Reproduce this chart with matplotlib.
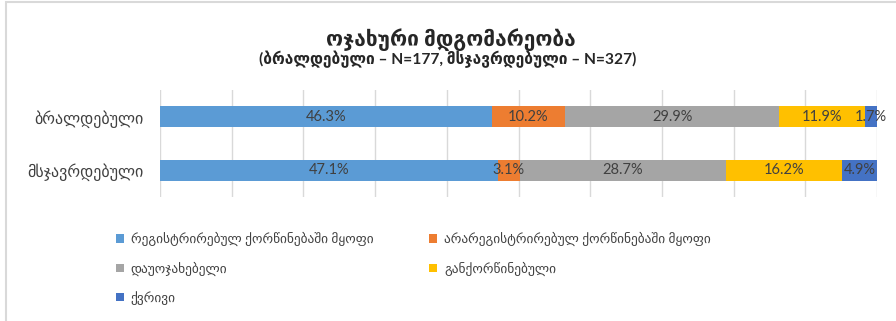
import matplotlib.pyplot as plt
from matplotlib.patches import Rectangle, Patch

plt.rcParams['font.family'] = ['Lato', 'DejaVu Sans']

# ოჯახური მდგომარეობა, percent of each group
groups = ['ბრალდებული', 'მსჯავრდებული']
statuses = ['რეგისტრირებულ ქორწინებაში მყოფი',
            'არარეგისტრირებულ ქორწინებაში მყოფი',
            'დაუოჯახებელი',
            'განქორწინებული',
            'ქვრივი']
accused = [46.3, 10.2, 29.9, 11.9, 1.7]
convicted = [47.1, 3.1, 28.7, 16.2, 4.9]
colors = ['#5B9BD5', '#ED7D31', '#A5A5A5', '#FFC000', '#4472C4']

W, H = 896, 321
fig = plt.figure(figsize=(W / 100, H / 100), dpi=100)

# light frame around the chart
fig.patches.append(Rectangle((6 / W, -0.1), 1.2, (H - 2) / H + 0.1,
                             transform=fig.transFigure, fill=False,
                             edgecolor='#D9D9D9', linewidth=1.5))

ax = fig.add_axes([160 / W, (H - 197) / H, (877 - 160) / W, 107 / H])

rows = [accused, convicted]
for j, name in enumerate(statuses):
    vals = [r[j] for r in rows]
    lefts = [sum(r[:j]) for r in rows]
    bars = ax.barh(range(len(groups)), vals, left=lefts, height=0.4,
                   color=colors[j], label=name, zorder=2)
    for b, v in zip(bars, vals):
        ax.text(b.get_x() + b.get_width() / 2, b.get_y() + b.get_height() / 2,
                f'{v:.1f}%', ha='center', va='center', fontsize=10.5,
                color='#404040', zorder=3)

ax.set_xlim(0, 100)
ax.set_ylim(1.5, -0.5)
ax.set_xticks(range(0, 101, 10))
ax.xaxis.grid(True, color='#D9D9D9', linewidth=1, zorder=0)
ax.tick_params(axis='x', length=0, labelbottom=False)
ax.tick_params(axis='y', length=0, pad=12)
ax.set_yticks(range(len(groups)))
ax.set_yticklabels(groups, fontsize=11.5, color='#404040')
for s in ax.spines.values():
    s.set_visible(False)

fig.text(451 / W, 1 - 40 / H, 'ოჯახური მდგომარეობა', ha='center',
         va='center', fontsize=15, fontweight='bold', color='#262626')
fig.text(448 / W, 1 - 59 / H, '(ბრალდებული – N=177, მსჯავრდებული – N=327)',
         ha='center', va='center', fontsize=11.2, fontweight='bold',
         color='#262626')

# legend reads row by row: matplotlib fills columns first, so reorder
handles = [Patch(facecolor=c, label=s) for c, s in zip(colors, statuses)]
order = [0, 2, 4, 1, 3]
fig.legend(handles=[handles[i] for i in order], ncol=2, loc='upper left',
           bbox_to_anchor=(104 / W, 1 - 220 / H), frameon=False,
           fontsize=9.6, handlelength=0.6, handleheight=0.6,
           handletextpad=0.5, labelspacing=1.15, columnspacing=4.2,
           labelcolor='#404040')

fig.savefig('out.png', dpi=100, facecolor='white')
